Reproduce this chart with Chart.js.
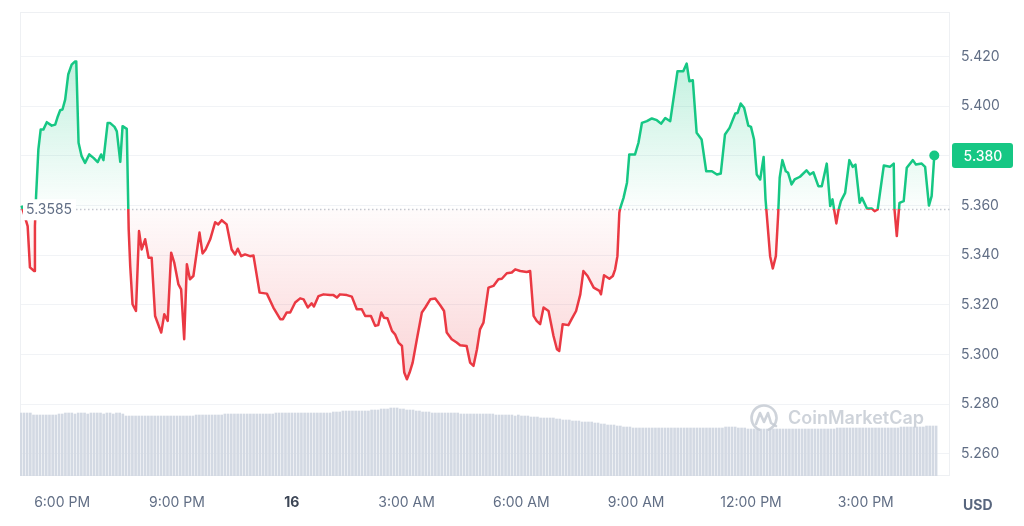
<!DOCTYPE html>
<html><head><meta charset="utf-8">
<script src="https://cdn.jsdelivr.net/npm/chart.js@4.4.0/dist/chart.umd.min.js"></script>
<style>html,body{margin:0;padding:0;background:#fff;}canvas{display:block;}</style>
</head><body>
<canvas id="c" width="1024" height="526"></canvas>
<script>
// ---- data ----
const baseline = 5.3585;           // price 24h ago
// time in hours since 00:00 of the 15th (24 = midnight of the 16th)
const times = [
 16.94,17.10,17.16,17.27,17.29,17.32,17.38,17.44,17.51,17.60,
 17.73,17.82,17.89,17.95,18.01,18.08,18.16,18.25,18.34,18.37,
 18.43,18.51,18.60,18.71,18.82,18.93,19.02,19.08,19.19,19.25,
 19.37,19.43,19.52,19.58,19.69,19.74,19.78,19.84,19.93,20.01,
 20.08,20.17,20.26,20.34,20.43,20.59,20.67,20.76,20.85,20.93,
 21.04,21.11,21.19,21.26,21.34,21.43,21.59,21.67,21.75,21.87,
 22.00,22.08,22.17,22.30,22.43,22.52,22.59,22.68,22.78,22.91,
 23.00,23.16,23.35,23.52,23.70,23.77,23.87,23.96,24.09,24.22,
 24.31,24.42,24.52,24.58,24.70,24.83,25.00,25.09,25.18,25.26,
 25.44,25.57,25.70,25.83,25.92,26.07,26.18,26.26,26.34,26.41,
 26.50,26.62,26.70,26.79,26.88,26.94,27.01,27.08,27.16,27.27,
 27.40,27.49,27.62,27.75,27.88,27.98,28.05,28.18,28.31,28.40,
 28.57,28.66,28.75,28.84,28.92,29.01,29.14,29.27,29.40,29.49,
 29.62,29.75,29.84,29.97,30.14,30.23,30.32,30.40,30.49,30.58,
 30.71,30.84,30.93,30.99,31.08,31.23,31.32,31.43,31.54,31.62,
 31.73,31.89,32.04,32.08,32.16,32.30,32.39,32.45,32.51,32.56,
 32.58,32.67,32.76,32.82,32.97,33.06,33.15,33.28,33.41,33.54,
 33.65,33.76,33.89,34.08,34.23,34.32,34.39,34.48,34.58,34.71,
 34.83,34.98,35.11,35.21,35.32,35.44,35.59,35.65,35.73,35.82,
 35.93,36.00,36.08,36.15,36.24,36.33,36.38,36.50,36.57,36.65,
 36.71,36.75,36.82,36.91,36.97,37.06,37.14,37.28,37.45,37.54,
 37.63,37.76,37.85,37.98,38.07,38.13,38.23,38.29,38.35,38.46,
 38.57,38.66,38.73,38.84,38.90,39.03,39.16,39.23,39.31,39.47,
 39.63,39.73,39.75,39.81,39.88,39.99,40.07,40.23,40.31,40.46,
 40.55,40.65,40.72,40.79
];
const prices = [
 5.3600,5.3517,5.3351,5.3336,5.3517,5.3638,5.3826,5.3906,5.3906,5.3936,
 5.3922,5.3926,5.3960,5.3984,5.3987,5.4027,5.4128,5.4168,5.4181,5.4181,
 5.3853,5.3799,5.3772,5.3806,5.3792,5.3775,5.3806,5.3783,5.3933,5.3933,
 5.3917,5.3899,5.3776,5.3920,5.3909,5.3504,5.3356,5.3202,5.3175,5.3497,
 5.3423,5.3464,5.3390,5.3390,5.3155,5.3088,5.3162,5.3135,5.3410,5.3370,
 5.3282,5.3262,5.3061,5.3363,5.3303,5.3316,5.3491,5.3407,5.3423,5.3464,
 5.3533,5.3524,5.3541,5.3524,5.3423,5.3403,5.3426,5.3396,5.3403,5.3396,
 5.3399,5.3249,5.3245,5.3189,5.3142,5.3142,5.3169,5.3169,5.3209,5.3226,
 5.3222,5.3189,5.3206,5.3193,5.3235,5.3242,5.3239,5.3239,5.3229,5.3242,
 5.3239,5.3233,5.3182,5.3182,5.3155,5.3155,5.3115,5.3118,5.3169,5.3148,
 5.3146,5.3095,5.3081,5.3048,5.3034,5.2927,5.2900,5.2927,5.2967,5.3061,
 5.3169,5.3189,5.3222,5.3225,5.3198,5.3175,5.3088,5.3061,5.3048,5.3037,
 5.3034,5.2967,5.2954,5.3021,5.3101,5.3128,5.3269,5.3276,5.3303,5.3305,
 5.3327,5.3330,5.3343,5.3336,5.3332,5.3336,5.3155,5.3135,5.3122,5.3189,
 5.3175,5.3074,5.3021,5.3014,5.3122,5.3118,5.3144,5.3175,5.3242,5.3336,
 5.3316,5.3269,5.3256,5.3242,5.3319,5.3305,5.3316,5.3343,5.3396,5.3571,
 5.3588,5.3631,5.3692,5.3806,5.3806,5.3853,5.3933,5.3940,5.3951,5.3944,
 5.3930,5.3953,5.3940,5.4141,5.4141,5.4172,5.4101,5.4105,5.3893,5.3866,
 5.3738,5.3738,5.3725,5.3729,5.3886,5.3913,5.3971,5.3973,5.4011,5.3994,
 5.3922,5.3917,5.3866,5.3725,5.3705,5.3796,5.3625,5.3396,5.3346,5.3396,
 5.3564,5.3712,5.3783,5.3738,5.3732,5.3685,5.3705,5.3716,5.3742,5.3725,
 5.3734,5.3678,5.3678,5.3769,5.3598,5.3625,5.3528,5.3584,5.3618,5.3651,
 5.3783,5.3756,5.3765,5.3611,5.3631,5.3588,5.3588,5.3577,5.3584,5.3761,
 5.3756,5.3769,5.3584,5.3477,5.3611,5.3618,5.3752,5.3783,5.3765,5.3769,
 5.3756,5.3600,5.3638,5.3802
];
// 5-minute volume bars (relative units)
const volStart = 16.92;
const volStepHours = 5 / 60;
const volume = [
 63,63,63,63,61,61,61,61,61,61,61,61,
 62,62,63,63,63,62,63,63,63,62,63,63,
 63,63,62,63,63,62,63,63,62,60,60,60,
 60,60,60,60,60,60,60,60,60,60,60,60,
 60,60,60,60,60,60,60,61,61,61,61,61,
 61,61,61,61,62,62,62,62,62,62,62,62,
 62,62,62,62,62,62,62,62,63,63,63,63,
 63,63,63,63,63,63,63,63,63,63,63,63,
 63,63,64,64,64,65,65,65,65,65,65,65,
 65,65,66,66,66,67,67,67,68,68,68,67,
 67,66,66,66,65,65,64,64,64,63,63,63,
 63,63,63,63,63,63,62,62,62,62,62,62,
 62,62,62,62,62,61,61,61,61,61,61,60,
 61,60,60,60,59,59,59,58,58,58,58,58,
 57,57,56,56,56,55,55,55,54,54,54,54,
 53,53,52,52,51,51,51,50,50,49,49,49,
 48,48,48,48,48,48,48,48,48,48,48,48,
 48,48,48,48,48,48,48,48,48,48,48,48,
 48,48,48,48,48,49,49,49,49,48,48,48,
 47,47,47,47,47,47,47,47,47,47,47,47,
 47,47,47,47,47,47,47,47,47,47,47,47,
 47,47,47,47,48,48,48,48,48,48,48,48,
 48,48,48,48,48,48,48,48,48,48,48,48,
 49,49,49,49,49,49,49,49,50,50,50,50
];
const yTicks = [5.26, 5.28, 5.30, 5.32, 5.34, 5.36, 5.38, 5.40, 5.42];
const xTickHours = [18, 21, 24, 27, 30, 33, 36, 39];
const xTickLabels = ['6:00 PM', '9:00 PM', '16', '3:00 AM', '6:00 AM', '9:00 AM', '12:00 PM', '3:00 PM'];
const currency = 'USD';
const watermark = 'CoinMarketCap';

// ---- styling ----
const GREEN = '#16c784', RED = '#ea3943';
const FONT = 'Inter, "Noto Sans", sans-serif';
const TXT = '#616e85';

const volPoints = volume.map((v, i) => ({ x: volStart + i * volStepHours, y: v }));
const pricePoints = times.map((t, i) => ({ x: t, y: prices[i] }));

const decor = {
  id: 'decor',
  afterLayout(chart) {
    const ca = chart.chartArea, y = chart.scales.y, ctx = chart.ctx;
    const by = y.getPixelForValue(baseline);
    const f = Math.min(1, Math.max(0, (by - ca.top) / (ca.bottom - ca.top)));
    const lg = ctx.createLinearGradient(0, ca.top, 0, ca.bottom);
    lg.addColorStop(0, GREEN); lg.addColorStop(f, GREEN);
    lg.addColorStop(f, RED); lg.addColorStop(1, RED);
    const ds = chart.data.datasets[0];
    ds.borderColor = lg;
    const top = y.getPixelForValue(Math.max(...prices));
    const ga = ctx.createLinearGradient(0, top, 0, by);
    ga.addColorStop(0, 'rgba(22,199,132,0.26)');
    ga.addColorStop(1, 'rgba(22,199,132,0.01)');
    const bot = y.getPixelForValue(Math.min(...prices));
    const gb = ctx.createLinearGradient(0, by, 0, bot);
    gb.addColorStop(0, 'rgba(234,57,67,0.02)');
    gb.addColorStop(1, 'rgba(234,57,67,0.22)');
    ds.fill = { target: { value: baseline }, above: ga, below: gb };
  },
  beforeDatasetsDraw(chart) {
    const ca = chart.chartArea, ctx = chart.ctx, y = chart.scales.y;
    ctx.save();
    ctx.strokeStyle = '#eef0f3';
    ctx.lineWidth = 1;
    ctx.strokeRect(ca.left + 0.5, ca.top + 0.5, ca.right - ca.left - 1, ca.bottom - ca.top - 1);
    const by = Math.round(y.getPixelForValue(baseline)) + 0.5;
    ctx.setLineDash([1.5, 2.5]);
    ctx.strokeStyle = '#c3c8d0';
    ctx.lineWidth = 1.5;
    ctx.beginPath(); ctx.moveTo(ca.left, by); ctx.lineTo(ca.right, by); ctx.stroke();
    ctx.restore();
  },
  afterDatasetsDraw(chart) {
    const ca = chart.chartArea, ctx = chart.ctx, y = chart.scales.y;
    ctx.save();
    // baseline label
    const by = y.getPixelForValue(baseline);
    ctx.fillStyle = '#ffffff';
    ctx.fillRect(ca.left + 3, by - 10, 53, 21);
    ctx.fillStyle = TXT;
    ctx.font = '14px ' + FONT;
    ctx.textBaseline = 'middle';
    ctx.textAlign = 'left';
    ctx.fillText(baseline.toFixed(4), ca.left + 6, by + 1);
    // watermark
    ctx.globalAlpha = 0.85;
    ctx.strokeStyle = '#c6cbd4';
    ctx.lineWidth = 2.6;
    ctx.lineCap = 'round'; ctx.lineJoin = 'round';
    const lx = 764, ly = 418;
    ctx.beginPath(); ctx.arc(lx, ly, 12.5, Math.PI * 0.62, Math.PI * 2.38); ctx.stroke();
    ctx.beginPath();
    ctx.moveTo(lx - 8, ly + 6); ctx.lineTo(lx - 4, ly - 5); ctx.lineTo(lx, ly + 4);
    ctx.lineTo(lx + 4, ly - 5); ctx.lineTo(lx + 7, ly + 5); ctx.lineTo(lx + 12, ly + 8);
    ctx.stroke();
    ctx.fillStyle = '#c6cbd4';
    ctx.font = '600 18px ' + FONT;
    ctx.fillText(watermark, 788, ly + 1);
    ctx.globalAlpha = 1;
    // current price tag
    const last = prices[prices.length - 1];
    const ly2 = y.getPixelForValue(last);
    ctx.fillStyle = GREEN;
    ctx.beginPath();
    ctx.roundRect(ca.right + 2, ly2 - 12.5, 61, 25, 3);
    ctx.fill();
    ctx.fillStyle = '#ffffff';
    ctx.font = '500 14px ' + FONT;
    ctx.textAlign = 'center';
    ctx.fillText(last.toFixed(3), ca.right + 33, ly2 + 1);
    // currency
    ctx.fillStyle = '#58667e';
    ctx.font = 'bold 14px ' + FONT;
    ctx.textAlign = 'left';
    ctx.fillText(currency, 963, 506);
    ctx.restore();
  }
};

new Chart(document.getElementById('c'), {
  type: 'line',
  data: {
    datasets: [
      {
        type: 'line',
        data: pricePoints,
        borderColor: GREEN,
        borderWidth: 2.5,
        borderJoinStyle: 'round',
        tension: 0,
        fill: { target: { value: baseline }, above: 'rgba(22,199,132,0.1)', below: 'rgba(234,57,67,0.1)' },
        pointRadius: (ctx) => ctx.dataIndex === prices.length - 1 ? 5 : 0,
        pointBackgroundColor: GREEN,
        pointBorderColor: GREEN,
        pointBorderWidth: 0,
        xAxisID: 'x', yAxisID: 'y',
        order: 1
      },
      {
        type: 'bar',
        data: volPoints,
        backgroundColor: '#d3d9e3',
        barThickness: 2,
        xAxisID: 'x', yAxisID: 'yv',
        order: 2
      }
    ]
  },
  options: {
    responsive: false,
    animation: false,
    devicePixelRatio: 1,
    layout: { padding: { left: 20, top: 12, right: 0, bottom: 0 } },
    plugins: { legend: { display: false }, tooltip: { enabled: false } },
    scales: {
      x: {
        type: 'linear', min: 16.90, max: 41.20, offset: false,
        afterBuildTicks: (s) => { s.ticks = xTickHours.map(v => ({ value: v })); },
        afterFit: (s) => { s.height = 50; s.paddingLeft = 0; s.paddingRight = 0; },
        grid: { display: false, offset: false },
        border: { display: false },
        ticks: {
          autoSkip: false, maxRotation: 0, padding: 10,
          color: (c) => c.index === 2 ? '#3d4656' : TXT,
          font: (c) => ({ family: FONT, size: 14, weight: c.index === 2 ? 'bold' : 'normal' }),
          callback: (v, i) => xTickLabels[i]
        }
      },
      y: {
        position: 'right', min: 5.251, max: 5.438,
        afterBuildTicks: (s) => { s.ticks = yTicks.map(v => ({ value: v })); },
        afterFit: (s) => { s.width = 74; s.paddingTop = 0; s.paddingBottom = 0; },
        grid: { color: '#f1f3f6', drawTicks: false },
        border: { display: false },
        ticks: {
          padding: 11, color: TXT,
          font: { family: FONT, size: 14 },
          callback: (v) => Number(v).toFixed(3)
        }
      },
      yv: { display: false, min: 0, max: 464 }
    }
  },
  plugins: [decor]
});
</script>
</body></html>
